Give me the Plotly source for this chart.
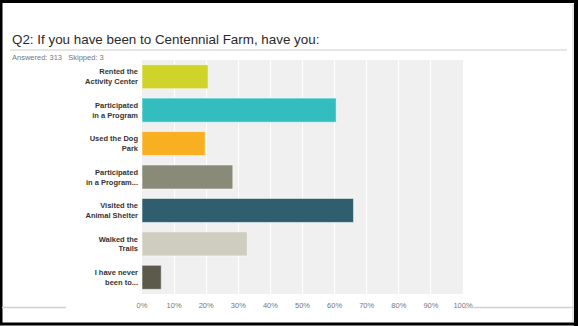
import plotly.graph_objects as go

categories = [
    "Rented the<br>Activity Center",
    "Participated<br>in a Program",
    "Used the Dog<br>Park",
    "Participated<br>in a Program...",
    "Visited the<br>Animal Shelter",
    "Walked the<br>Trails",
    "I have never<br>been to...",
]
values = [20.6, 60.5, 19.7, 28.3, 65.9, 32.8, 6.0]
colors = ["#d0d329", "#33bdbf", "#f8b022", "#8a8a78", "#2f5f6e", "#cfcdbf", "#5c5a4b"]
tick_vals = [0, 10, 20, 30, 40, 50, 60, 70, 80, 90, 100]
tick_text = ["0%", "10%", "20%", "30%", "40%", "50%", "60%", "70%", "80%", "90%", "100%"]

W, H = 579, 326
L, R, T, B = 142, 463, 60, 294

def px(x):
    return (x - L) / (R - L)

def py(y):
    return (B - y) / (B - T)

fig = go.Figure(go.Bar(
    x=values, y=categories, orientation="h",
    marker=dict(color=colors, line=dict(color="rgba(255,255,255,0.55)", width=1)),
    hoverinfo="skip",
))

shapes = []
# outer black frame
shapes.append(dict(type="rect", xref="paper", yref="paper",
                   x0=px(1), x1=px(576.5), y0=py(1.5), y1=py(324),
                   line=dict(color="black", width=3), fillcolor="rgba(0,0,0,0)", layer="above"))
shapes.append(dict(type="line", xref="paper", yref="paper",
                   x0=px(576), x1=px(576), y0=py(0), y1=py(326),
                   line=dict(color="black", width=4), layer="above"))
shapes.append(dict(type="line", xref="paper", yref="paper",
                   x0=px(573), x1=px(573), y0=py(4), y1=py(322),
                   line=dict(color="#cccccc", width=1), layer="above"))
# title underline
shapes.append(dict(type="line", xref="paper", yref="paper",
                   x0=px(10), x1=px(567), y0=py(50), y1=py(50),
                   line=dict(color="#cccccc", width=1)))
# bottom rule segments
shapes.append(dict(type="line", xref="paper", yref="paper",
                   x0=px(2), x1=px(66), y0=py(307.5), y1=py(307.5),
                   line=dict(color="#d0d0d0", width=1.5)))
shapes.append(dict(type="line", xref="paper", yref="paper",
                   x0=px(465), x1=px(574), y0=py(307.5), y1=py(307.5),
                   line=dict(color="#d0d0d0", width=1.5)))

annotations = [
    dict(text="Q2: If you have been to Centennial Farm, have you:",
         xref="paper", yref="paper", x=px(10), y=py(39), xanchor="left", yanchor="middle",
         showarrow=False, font=dict(family="Liberation Sans, Arial", size=13.4, color="#2a2a2a")),
    dict(text="Answered: 313&nbsp;&nbsp;&nbsp;Skipped: 3",
         xref="paper", yref="paper", x=px(10), y=py(57), xanchor="left", yanchor="middle",
         showarrow=False, font=dict(family="Liberation Sans, Arial", size=7.5, color="#777777")),
]

fig.update_layout(
    width=W, height=H,
    margin=dict(l=L, r=W - R, t=T, b=H - B),
    paper_bgcolor="white",
    plot_bgcolor="#f0f0f0",
    showlegend=False,
    bargap=0.28,
    shapes=shapes,
    annotations=annotations,
    xaxis=dict(range=[0, 100], tickvals=tick_vals, ticktext=tick_text,
               showgrid=True, gridcolor="white", gridwidth=1, zeroline=False,
               showline=False, ticks="", ticklabelstandoff=5,
               tickfont=dict(family="Liberation Sans, Arial", size=7.5, color="#777777"),
               fixedrange=True),
    yaxis=dict(autorange="reversed", showgrid=False, zeroline=False, ticks="",
               ticklabelstandoff=3,
               tickfont=dict(family="Liberation Sans, Arial", size=7.5, color="#333333", weight="bold"),
               fixedrange=True),
)

fig.write_html("out.html", config={"displayModeBar": False})
